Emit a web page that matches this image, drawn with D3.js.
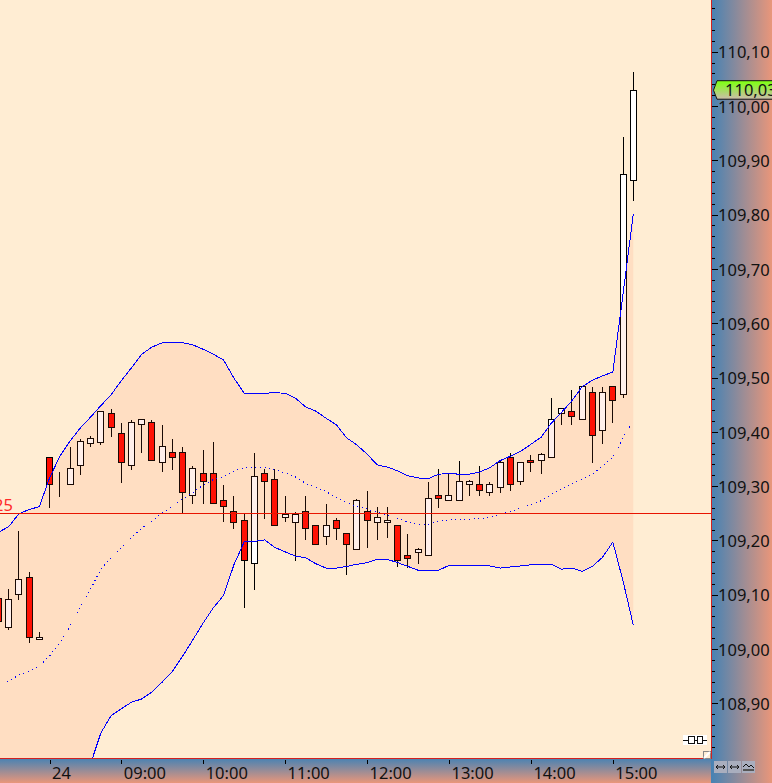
<!DOCTYPE html>
<html><head><meta charset="utf-8">
<script src="https://cdn.jsdelivr.net/npm/d3@7"></script>
<style>html,body{margin:0;padding:0;background:#FFEDD3;overflow:hidden}svg{display:block}text{font-family:"Noto Sans",sans-serif;font-size:16.5px}</style>
</head><body><div id="c"></div>
<script>
// Bars run from index -1 to 61 (8 bars per hour)
const firstBar = -1;
const opens = [109.094,109.041,109.102,109.132,109.018,109.353,109.298,109.303,109.338,109.379,109.382,109.434,109.397,109.338,109.414,109.418,109.344,109.362,109.362,109.283,109.324,109.324,109.274,109.254,109.237,109.158,109.324,109.313,109.243,109.233,109.254,109.228,109.208,109.237,109.213,109.184,109.254,109.233,109.233,109.228,109.173,109.178,109.173,109.283,109.274,109.274,109.303,109.303,109.289,109.298,109.353,109.309,109.348,109.348,109.353,109.434,109.438,109.423,109.473,109.403,109.484,109.469,109.863];
const highs = [109.100,109.112,109.219,109.143,109.033,109.353,109.328,109.374,109.388,109.394,109.438,109.443,109.418,109.424,109.423,109.424,109.414,109.388,109.373,109.338,109.368,109.383,109.303,109.284,109.250,109.362,109.333,109.333,109.284,109.254,109.283,109.228,109.268,109.243,109.213,109.278,109.292,109.263,109.263,109.228,109.213,109.187,109.309,109.333,109.324,109.348,109.313,109.338,109.309,109.348,109.362,109.344,109.359,109.362,109.464,109.443,109.478,109.484,109.484,109.484,109.484,109.945,110.064];
const lows = [109.040,109.037,109.092,109.012,109.018,109.262,109.282,109.303,109.322,109.373,109.378,109.392,109.308,109.332,109.362,109.348,109.327,109.332,109.253,109.268,109.268,109.268,109.236,109.222,109.077,109.111,109.242,109.228,109.236,109.163,109.202,109.193,109.193,109.202,109.138,109.184,109.187,109.202,109.207,109.152,109.151,109.158,109.173,109.262,109.274,109.274,109.283,109.283,109.283,109.289,109.292,109.303,109.327,109.324,109.353,109.414,109.414,109.423,109.344,109.379,109.418,109.464,109.827];
const closes = [109.052,109.093,109.128,109.023,109.023,109.303,109.298,109.333,109.383,109.388,109.438,109.408,109.344,109.418,109.423,109.348,109.373,109.353,109.289,109.333,109.309,109.268,109.263,109.233,109.163,109.318,109.309,109.228,109.248,109.248,109.222,109.193,109.228,109.222,109.193,109.274,109.237,109.243,109.237,109.163,109.167,109.184,109.278,109.278,109.283,109.309,109.309,109.292,109.303,109.344,109.303,109.344,109.344,109.359,109.423,109.443,109.429,109.484,109.394,109.473,109.458,109.874,110.029];
const upperBand = [109.215,109.225,109.249,109.257,109.262,109.315,109.355,109.383,109.407,109.427,109.448,109.468,109.494,109.518,109.543,109.556,109.564,109.565,109.564,109.560,109.552,109.543,109.532,109.499,109.471,109.471,109.471,109.472,109.471,109.462,109.446,109.438,109.425,109.413,109.389,109.376,109.359,109.339,109.335,109.328,109.319,109.315,109.314,109.322,109.323,109.322,109.322,109.326,109.334,109.347,109.355,109.364,109.377,109.390,109.416,109.436,109.457,109.483,109.495,109.503,109.510,109.654,109.801];
const middleBand = [108.934,108.941,108.952,108.959,108.969,108.987,109.011,109.042,109.077,109.110,109.147,109.168,109.186,109.206,109.222,109.236,109.250,109.263,109.277,109.288,109.302,109.312,109.317,109.328,109.333,109.335,109.335,109.330,109.324,109.317,109.305,109.297,109.290,109.279,109.269,109.262,109.258,109.252,109.247,109.240,109.234,109.230,109.230,109.236,109.238,109.238,109.239,109.240,109.243,109.248,109.253,109.260,109.266,109.273,109.285,109.295,109.304,109.313,109.322,109.337,109.353,109.389,109.420];
const lowerBand = [108.519,108.528,108.538,108.547,108.556,108.575,108.611,108.667,108.731,108.788,108.845,108.877,108.890,108.902,108.908,108.921,108.939,108.959,108.987,109.017,109.048,109.076,109.099,109.155,109.197,109.198,109.201,109.187,109.179,109.171,109.168,109.157,109.149,109.149,109.152,109.156,109.159,109.165,109.165,109.159,109.152,109.145,109.145,109.145,109.154,109.154,109.154,109.154,109.153,109.149,109.151,109.153,109.155,109.156,109.156,109.147,109.149,109.143,109.152,109.169,109.197,109.125,109.044];
const priceLevel = 109.25, levelLabel = "109,25";
const lastPrice = 110.03, lastLabel = "110,03";
const majorTicks = [108.9,109.0,109.1,109.2,109.3,109.4,109.5,109.6,109.7,109.8,109.9,110.0,110.1];
const minorTicks = d3.range(108.82,110.19,0.02);
const timeTickBars = [4,11,19,27,35,43,51,59];
const timeTickLabels = ["24","09:00","10:00","11:00","12:00","13:00","14:00","15:00"];

const W=772,H=783,plotW=711,plotH=758;
const svg=d3.select("#c").append("svg").attr("width",W).attr("height",H);
const defs=svg.append("defs");
const g1=defs.append("linearGradient").attr("id","gh");
g1.append("stop").attr("offset",0).attr("stop-color","#4682B4");g1.append("stop").attr("offset",1).attr("stop-color","#E9967A");
const g2=defs.append("linearGradient").attr("id","gv").attr("x2",0).attr("y2",1);
g2.append("stop").attr("offset",0).attr("stop-color","#4682B4");g2.append("stop").attr("offset",1).attr("stop-color","#E9967A");
const g3=defs.append("linearGradient").attr("id","gt").attr("x2",0).attr("y2",1);
g3.append("stop").attr("offset",0.1).attr("stop-color","#84FC1C");g3.append("stop").attr("offset",0.95).attr("stop-color","#C9BFA5");
defs.append("clipPath").attr("id","pc").append("rect").attr("width",plotW).attr("height",plotH);

const x=d3.scaleLinear().domain([0,61]).range([8.6,633.3]);
const y=d3.scaleLinear().domain([110,109]).range([106,649]);
const bars=opens.map((o,k)=>({i:firstBar+k,o,h:highs[k],l:lows[k],c:closes[k],u:upperBand[k],m:middleBand[k],b:lowerBand[k]}));
const cx=i=>Math.floor(x(i))+0.5, sy=v=>Math.round(y(v))+0.5;

svg.append("rect").attr("width",W).attr("height",H).attr("fill","#FFEDD3");
const plot=svg.append("g").attr("clip-path","url(#pc)");
const cg=plot.append("g").attr("shape-rendering","crispEdges");
cg.selectAll("line").data(bars).join("line").attr("x1",d=>cx(d.i)).attr("x2",d=>cx(d.i)).attr("y1",d=>sy(d.h)).attr("y2",d=>sy(d.l)).attr("stroke","#000");
cg.selectAll("rect").data(bars).join("rect").attr("x",d=>cx(d.i)-3).attr("width",6)
  .attr("y",d=>sy(Math.max(d.o,d.c))).attr("height",d=>Math.max(0,sy(Math.min(d.o,d.c))-sy(Math.max(d.o,d.c))))
  .attr("fill",d=>d.c<d.o?"#FF0A00":"#FFFFFF").attr("stroke","#000");
plot.append("path").datum(bars).attr("fill","#FF6034").attr("fill-opacity",0.1)
  .attr("d",d3.area().x(d=>x(d.i)).y0(d=>y(d.b)).y1(d=>y(d.u)));
const line=k=>d3.line().x(d=>x(d.i)).y(d=>y(d[k]));
["u","b"].forEach(k=>plot.append("path").datum(bars).attr("fill","none").attr("stroke","#0000FF").attr("stroke-width",1).attr("shape-rendering","crispEdges").attr("d",line(k)));
plot.append("path").datum(bars).attr("fill","none").attr("stroke","#0000FF").attr("stroke-width",1).attr("shape-rendering","crispEdges").attr("stroke-dasharray","1 3.6").attr("d",line("m"));
plot.append("line").attr("x1",0).attr("x2",plotW).attr("y1",sy(priceLevel)).attr("y2",sy(priceLevel)).attr("stroke","#E81400").attr("shape-rendering","crispEdges");
plot.append("text").attr("x",13).attr("y",sy(priceLevel)-3).attr("text-anchor","end").attr("fill","#FF2A2A").text(levelLabel);

// bottom + right panes
svg.append("rect").attr("x",0).attr("y",plotH).attr("width",plotW).attr("height",H-plotH).attr("fill","url(#gv)");
svg.append("rect").attr("x",plotW).attr("y",0).attr("width",W-plotW).attr("height",H).attr("fill","url(#gh)");
svg.append("line").attr("x1",0).attr("x2",plotW+1).attr("y1",758.5).attr("y2",758.5).attr("stroke","#D22020").attr("shape-rendering","crispEdges");
svg.append("line").attr("x1",711.5).attr("x2",711.5).attr("y1",0).attr("y2",759).attr("stroke","#D22020").attr("shape-rendering","crispEdges");

// price axis
const yMinor=d3.axisRight(y).tickValues(minorTicks).tickSize(3).tickFormat("");
const gm=svg.append("g").attr("transform","translate(712,0)").attr("shape-rendering","crispEdges").call(yMinor);
const yMajor=d3.axisRight(y).tickValues(majorTicks).tickSize(6).tickPadding(0).tickFormat(v=>d3.format(".2f")(v).replace(".",","));
const gy=svg.append("g").attr("transform","translate(712,0)").attr("shape-rendering","crispEdges").call(yMajor);
[gm,gy].forEach(g=>{g.select(".domain").remove();g.selectAll("line").attr("stroke","#000");});
gy.selectAll("text").attr("fill","#111").attr("y",1).style("font","16.5px 'Noto Sans'");

// time axis
const xAxis=d3.axisBottom(x).tickValues(timeTickBars).tickSize(4).tickFormat((v,k)=>timeTickLabels[k]);
const gx=svg.append("g").attr("transform","translate(0,760)").call(xAxis);
gx.select(".domain").remove();
gx.selectAll("line").attr("stroke","#000").attr("shape-rendering","crispEdges");
gx.selectAll("text").attr("fill","#111").attr("text-anchor","start").attr("x",2).attr("y",19).attr("dy",0).style("font","16.5px 'Noto Sans'");

// last price tag
const ty=y(lastPrice);
svg.append("path").attr("d",d3.line()([[713.5,ty+0.5],[717,ty-9],[773,ty-9],[773,ty+9.5],[717,ty+9.5]])+"Z").attr("fill","url(#gt)").attr("stroke","#111");
svg.append("text").attr("x",725).attr("y",ty+6).attr("fill","#111").text(lastLabel);

// small controls
const ic=svg.append("g").attr("shape-rendering","crispEdges");
ic.append("rect").attr("x",683).attr("y",735).attr("width",24).attr("height",10).attr("fill","#FFF");
ic.append("line").attr("x1",683).attr("x2",707).attr("y1",740.5).attr("y2",740.5).attr("stroke","#111");
ic.append("rect").attr("x",688.5).attr("y",736.5).attr("width",6).attr("height",7).attr("fill","#FFF").attr("stroke","#111");
ic.append("rect").attr("x",697.5).attr("y",736.5).attr("width",5).attr("height",7).attr("fill","#FFF").attr("stroke","#111");
svg.append("rect").attr("x",703.5).attr("y",751.5).attr("width",7).attr("height",7).attr("fill","#FFEDD3").attr("stroke","#888");
svg.append("line").attr("x1",704).attr("y1",758).attr("x2",710).attr("y2",752).attr("stroke","#FFF").attr("stroke-width",2);
[714,728,742].forEach((bx,k)=>{
  const b=svg.append("g").attr("transform",`translate(${bx},761)`);
  b.append("rect").attr("width",13).attr("height",12).attr("fill","#A9AEBE");
  if(k<2){
    b.append("path").attr("d","M2 6H11M4 4L2 6L4 8M9 4L11 6L9 8").attr("fill","none").attr("stroke","#111");
  }else{
    b.append("path").attr("d","M1 6L4 3L7 6L9 4L12 7").attr("fill","none").attr("stroke","#111");
    b.append("path").attr("d","M1 9H12").attr("stroke","#555").attr("stroke-width",2);
  }
});
</script></body></html>
